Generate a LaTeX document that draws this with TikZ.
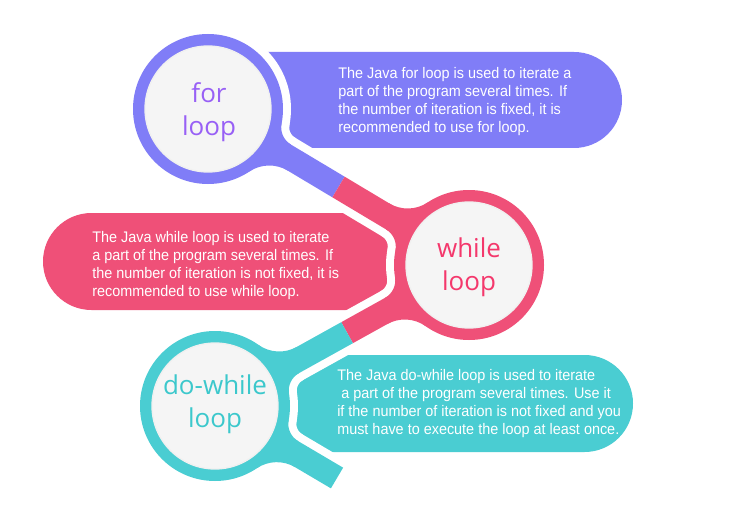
\documentclass[tikz,border=0pt]{standalone}
\usepackage{fontspec}
\usetikzlibrary{calc}
\newfontfamily\bodyfont[FakeStretch=0.94]{Liberation Sans}
\newfontfamily\titlefont{Open Sans}
\definecolor{forcol}{RGB}{128,125,247}
\definecolor{whilecol}{RGB}{239,80,120}
\definecolor{docol}{RGB}{74,205,210}
\definecolor{fortxt}{RGB}{152,96,245}
\definecolor{whiletxt}{RGB}{244,56,108}
\definecolor{dotxt}{RGB}{60,200,204}
\definecolor{facecol}{RGB}{245,245,245}
% neck between a ring and its band, in the band's own frame
\newcommand{\bigneck}{(0,0) -- (67.6,32.4) arc[start angle=205.6, end angle=270, radius=36] -- (100.1,0) -- cycle}
\newcommand{\bigedge}{(67.6,32.4) arc[start angle=205.6, end angle=270, radius=36]}
\newcommand{\smallneck}{(0,0) -- (70.6,25.3) arc[start angle=199.7, end angle=270, radius=20] -- (89.5,0) -- cycle}
\newcommand{\smalledge}{(70.6,25.3) arc[start angle=199.7, end angle=270, radius=20]}
\newcommand{\neckat}[5]{\begin{scope}[shift={#1},rotate=#2,yscale=#3]\path[#4] #5;\end{scope}}

\begin{document}
\begin{tikzpicture}[x=0.75pt,y=0.75pt,yscale=-1,xscale=1,
  halo/.style={draw=white,line width=12pt,line cap=round},
  band/.style={line width=18pt,line cap=butt,line join=round},
  face/.style={fill=facecol,draw=black!6,line width=1pt},
  title/.style={font=\titlefont\fontsize{19.5}{24.75}\selectfont,align=center,inner sep=0pt},
  bodytext/.style={font=\bodyfont\fontsize{11.5}{13.5}\selectfont,text=white,align=left,inner sep=0pt,anchor=north west}]
\path[use as bounding box,fill=white] (0,0) rectangle (749,531);

\coordinate (P) at (208,109);
\coordinate (Q) at (469,265);
\coordinate (T) at (215,406);
\coordinate (E) at (337,478);
\coordinate (J1) at ($(P)!0.5!(Q)$);
\coordinate (J2) at ($(Q)!0.48!(T)$);

%Boxes
\fill[forcol] (230,52) -- (574,52) arc[start angle=-90, end angle=90, radius=48] -- (230,148) -- cycle;
\fill[whilecol] (440,213) -- (91.5,213) arc[start angle=-90, end angle=-270, radius=48.5] -- (440,310) -- cycle;
\fill[docol] (250,355) -- (584.5,355) arc[start angle=-90, end angle=90, radius=48.5] -- (250,452) -- cycle;

%White gaps round the rings and bands
\fill[white] (P) circle (83) (Q) circle (83) (T) circle (83);
\draw[white,line width=30pt,line join=round] (P) -- (Q) -- (T) -- (E);
\neckat{(208,109)}{30.87}{1}{halo}{\bigedge}
\neckat{(208,109)}{30.87}{-1}{halo}{\smalledge}
\neckat{(469,265)}{210.87}{1}{halo}{\bigedge}
\neckat{(469,265)}{210.87}{-1}{halo}{\smalledge}
\neckat{(469,265)}{150.96}{-1}{halo}{\bigedge}
\neckat{(469,265)}{150.96}{1}{halo}{\smalledge}
\neckat{(215,406)}{-29.04}{-1}{halo}{\bigedge}
\neckat{(215,406)}{-29.04}{1}{halo}{\smalledge}
\neckat{(215,406)}{30.55}{1}{halo}{\bigedge}
\neckat{(215,406)}{30.55}{-1}{halo}{\smalledge}

%Bands
\draw[band,forcol] (P) -- (J1);
\draw[band,whilecol] (J1) -- (Q) -- (J2);
\draw[band,docol] (J2) -- (T) -- (E);

%Necks
\neckat{(208,109)}{30.87}{1}{fill=forcol}{\bigneck}
\neckat{(208,109)}{30.87}{-1}{fill=forcol}{\smallneck}
\neckat{(469,265)}{210.87}{1}{fill=whilecol}{\bigneck}
\neckat{(469,265)}{210.87}{-1}{fill=whilecol}{\smallneck}
\neckat{(469,265)}{150.96}{-1}{fill=whilecol}{\bigneck}
\neckat{(469,265)}{150.96}{1}{fill=whilecol}{\smallneck}
\neckat{(215,406)}{-29.04}{-1}{fill=docol}{\bigneck}
\neckat{(215,406)}{-29.04}{1}{fill=docol}{\smallneck}
\neckat{(215,406)}{30.55}{1}{fill=docol}{\bigneck}
\neckat{(215,406)}{30.55}{-1}{fill=docol}{\smallneck}

%Rings
\fill[forcol] (P) circle (75);
\fill[whilecol] (Q) circle (75);
\fill[docol] (T) circle (75);
\path[face] (P) circle (63) (Q) circle (63) (T) circle (63);

% Text Node
\node[title,text=fortxt] (fortitle) at (209,112) {for\\loop};
\node[title,text=whiletxt] (whiletitle) at (469,267) {while\\loop};
\node[title,text=dotxt] (dotitle) at (215,404) {do-while\\loop};
% Text Node
\node[bodytext] (fortext) at (338,67) {The Java for loop is used to iterate a\\part of the program several times. If\\the number of iteration is fixed, it is\\recommended to use for loop.};
\node[bodytext] (whiletext) at (92,231) {The Java while loop is used to iterate\\a part of the program several times. If\\the number of iteration is not fixed, it is\\recommended to use while loop.};
\node[bodytext] (dotext) at (337,369) {The Java do-while loop is used to iterate\\\hspace*{3pt}a part of the program several times. Use it\\if the number of iteration is not fixed and you\\must have to execute the loop at least once.};

\end{tikzpicture}
\end{document}
